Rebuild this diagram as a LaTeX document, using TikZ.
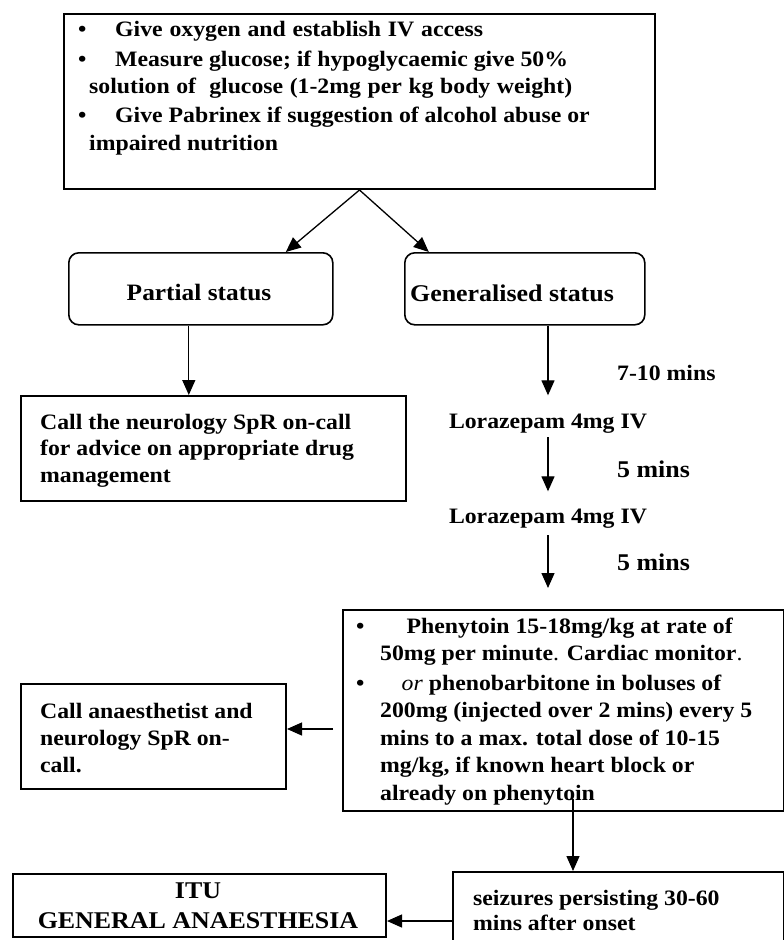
\documentclass[tikz,border=0pt]{standalone}
\usepackage{fontspec}
\setmainfont{Liberation Serif}[FakeStretch=1.08]
\usetikzlibrary{arrows.meta,calc}

% rows of a text block, first row on the node's baseline
\newcommand{\flowrows}[1]{\begin{tabular}[t]{@{}l@{}}#1\end{tabular}}
\newcommand{\flowrowsc}[1]{\begin{tabular}[t]{@{}c@{}}#1\end{tabular}}
\newcommand{\bul}[1]{\makebox[#1][l]{\textbullet}}

\begin{document}
\begin{tikzpicture}[x=1pt, y=-1pt,
  frame/.style={draw, line width=2pt, inner sep=0pt, anchor=north west},
  softbox/.style={draw, line width=1.6pt, rounded corners=10pt, inner sep=0pt, anchor=north west},
  txt/.style={inner sep=0pt, anchor=base west, font=\fontsize{22}{#1}\selectfont\bfseries},
  txt/.default=27.5,
  bigtxt/.style={inner sep=0pt, anchor=base, font=\fontsize{24}{#1}\selectfont\bfseries},
  bigtxt/.default=30,
  arr/.style={line width=1.3pt, -{Triangle[length=15pt, width=13pt]}},
]
\useasboundingbox (0,0) rectangle (784,940);
\fill[white] (0,0) rectangle (784,940);
\clip (0,0) rectangle (784,940);

% ---------- boxes ----------
\node[frame, minimum width=591pt, minimum height=175pt] (top) at (63,13) {};
\node[softbox, minimum width=264pt, minimum height=72pt] (partial) at (68,252) {};
\node[softbox, minimum width=240pt, minimum height=72pt] (gen) at (404,252) {};
\node[frame, minimum width=385pt, minimum height=105pt] (neuro) at (20,395) {};
\node[frame, minimum width=441pt, minimum height=201pt] (phen) at (342,609) {};
\node[frame, minimum width=265pt, minimum height=105pt] (anaes) at (20,683) {};
\node[frame, minimum width=373pt, minimum height=63pt] (itu) at (12,873) {};
\node[frame, minimum width=331pt, minimum height=110pt] (seiz) at (452,871) {};

% ---------- texts ----------
\node[txt] (t1) at (78,36) {\bul{37pt}\makebox[368pt][s]{Give oxygen and establish IV access}};
\node[txt=27.3] (t2) at (78,66) {\flowrows{\bul{37pt}Measure glucose; if hypoglycaemic give 50\%\\
  \hspace*{11pt}\makebox[483pt][s]{solution of\ \ glucose (1-2mg per kg body weight)}}};
\node[txt=28] (t3) at (78,122) {\flowrows{\bul{37pt}Give Pabrinex if suggestion of alcohol abuse or\\
  \hspace*{11pt}impaired nutrition}};

\node[bigtxt] (tpartial) at (199,300) {\fontsize{23.5}{30}\selectfont Partial status};
\node[bigtxt] (tgen) at (512,301) {Generalised status};

\node[txt=26.5] (tneuro) at (40,429) {\flowrows{Call the neurology SpR on-call\\
  for advice on appropriate drug\\ management}};

\node[txt] (wait1) at (617,380) {7-10 mins};
\node[txt, anchor=base] (lz1) at (548,428) {Lorazepam 4mg IV};
\node[bigtxt, anchor=base west] (wait2) at (617,477) {5 mins};
\node[txt, anchor=base] (lz2) at (548,523) {Lorazepam 4mg IV};
\node[bigtxt, anchor=base west] (wait3) at (617,570) {5 mins};

\node[txt=27.4] (tphen1) at (356,633) {\flowrows{\bul{50.5pt}Phenytoin 15-18mg/kg at rate of\\
  \hspace*{24pt}50mg per minute{\mdseries .} Cardiac monitor{\mdseries .}}};
\node[txt=27.6] (tphen2) at (356,690) {\flowrows{\bul{45.5pt}\textit{\mdseries or} phenobarbitone in boluses of\\
  \hspace*{24pt}200mg (injected over 2 mins) every 5\\
  \hspace*{24pt}mins to a max. total dose of 10-15\\
  \hspace*{24pt}mg/kg, if known heart block or\\
  \hspace*{24pt}already on phenytoin}};

\node[txt=27] (tanaes) at (40,718) {\flowrows{Call anaesthetist and\\ neurology SpR on-\\ call.}};

\node[bigtxt] (titu) at (198,898) {\flowrowsc{ITU\\ GENERAL ANAESTHESIA}};
\node[txt=25] (tseiz) at (473,905) {\flowrows{seizures persisting 30-60\\ mins after onset}};

% ---------- connectors ----------
\draw[arr] (top.south) -- ([xshift=85pt]partial.north);
\draw[arr] (top.south) -- ([xshift=-96pt]gen.north);

\coordinate (pdrop) at ($(partial.south)+(-12,0)$);
\draw[arr] (pdrop) -- (pdrop |- neuro.north);

\draw[arr, shorten >=18pt] (lz1 |- gen.south) -- (lz1.north);
\draw[arr, shorten <=4pt, shorten >=17pt] (lz1.south) -- (lz2.north);
\draw[arr, shorten <=7pt, shorten >=21pt] (lz2.south) -- (lz2.south |- phen.north);

\coordinate (toanaes) at ($(anaes.east)+(0,-7.5)$);
\draw[arr, shorten <=9pt] (phen.west |- toanaes) -- (toanaes);

\coordinate (pdown) at ($(phen.south)+(9.5,0)$);
\draw[arr, shorten <=-13pt] (pdown) -- (pdown |- seiz.north);

\coordinate (toitu) at ($(itu.east)+(0,15.5)$);
\draw[arr] (seiz.west |- toitu) -- (toitu);
\end{tikzpicture}
\end{document}
